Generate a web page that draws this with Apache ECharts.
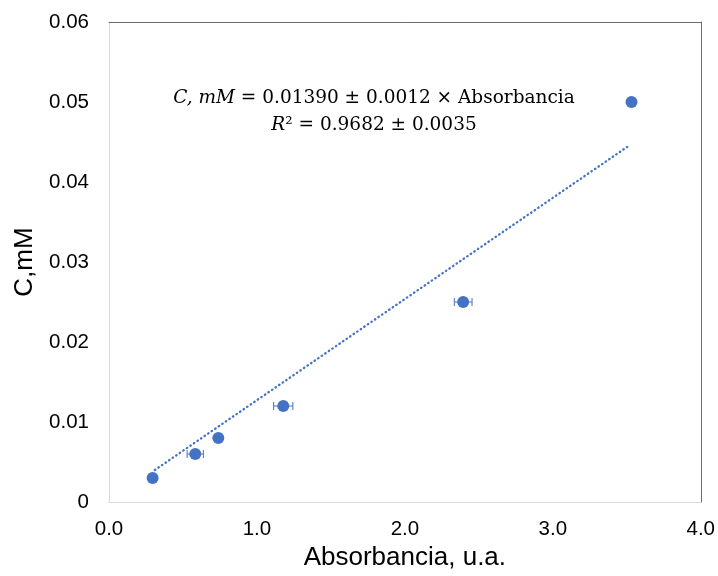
<!DOCTYPE html>
<html>
<head>
<meta charset="utf-8">
<script src="https://cdn.jsdelivr.net/npm/echarts@6/dist/echarts.min.js"></script>
<style>
html,body{margin:0;padding:0;background:#fff;}
#chart{width:718px;height:576px;}
</style>
</head>
<body>
<div id="chart"></div>
<script>
// Data
var absorbance = [0.295, 0.583, 0.739, 1.178, 2.394, 3.532];
var concentration = [0.003, 0.006, 0.008, 0.012, 0.025, 0.050];
var absorbanceErr = [0.02, 0.055, 0.02, 0.065, 0.06, 0.02];
var trendX = [0.31, 3.52];
var trendY = [0.0040, 0.0446];
var xTicks = ['0.0', '1.0', '2.0', '3.0', '4.0'];
var yTicks = ['0', '0.01', '0.02', '0.03', '0.04', '0.05', '0.06'];

var blue = '#4472C4';
var points = absorbance.map(function (x, i) { return [x, concentration[i]]; });
var errData = absorbance.map(function (x, i) { return [x, concentration[i], absorbanceErr[i]]; });
var trend = trendX.map(function (x, i) { return [x, trendY[i]]; });

var chart = echarts.init(document.getElementById('chart'), null, { renderer: 'canvas' });
var labelFont = { fontFamily: 'Liberation Sans, Arial, sans-serif', fontSize: 20.5, color: '#000' };

chart.setOption({
  animation: false,
  backgroundColor: '#fff',
  grid: { left: 109, right: 17, top: 22, bottom: 74, containLabel: false },
  xAxis: [{
    type: 'value', min: 0, max: 4, interval: 1, position: 'bottom',
    name: 'Absorbancia, u.a.', nameLocation: 'middle', nameGap: 43,
    nameTextStyle: { fontFamily: 'Liberation Sans, Arial, sans-serif', fontSize: 26, color: '#000' },
    axisLine: { show: true, onZero: false, lineStyle: { color: '#d9d9d9', width: 1 } },
    axisTick: { show: false },
    splitLine: { show: false },
    axisLabel: Object.assign({ margin: 17, formatter: function (v) { return xTicks[Math.round(v)]; } }, labelFont)
  }, {
    type: 'value', min: 0, max: 4, interval: 1, position: 'top',
    axisLine: { show: true, onZero: false, lineStyle: { color: '#6b6b6b', width: 1 } },
    axisTick: { show: false }, axisLabel: { show: false }, splitLine: { show: false }
  }],
  yAxis: [{
    type: 'value', min: 0, max: 0.06, interval: 0.01, position: 'left',
    name: 'C,mM', nameLocation: 'middle', nameGap: 70, nameRotate: 90,
    nameTextStyle: { fontFamily: 'Liberation Sans, Arial, sans-serif', fontSize: 26, color: '#000' },
    axisLine: { show: true, onZero: false, lineStyle: { color: '#d9d9d9', width: 1 } },
    axisTick: { show: false },
    splitLine: { show: false },
    axisLabel: Object.assign({ margin: 20, formatter: function (v) { return yTicks[Math.round(v * 100)]; } }, labelFont)
  }, {
    type: 'value', min: 0, max: 0.06, interval: 0.01, position: 'right',
    axisLine: { show: true, onZero: false, lineStyle: { color: '#6b6b6b', width: 1 } },
    axisTick: { show: false }, axisLabel: { show: false }, splitLine: { show: false }
  }],
  series: [{
    type: 'line',
    data: trend,
    showSymbol: false,
    symbol: 'none',
    lineStyle: { color: blue, width: 2.3, type: [0.5, 3.8], cap: 'round' },
    z: 2
  }, {
    type: 'custom',
    data: errData,
    z: 3,
    renderItem: function (params, api) {
      var x = api.value(0), y = api.value(1), e = api.value(2);
      var p1 = api.coord([x - e, y]);
      var p2 = api.coord([x + e, y]);
      var h = 4;
      var st = { stroke: blue, lineWidth: 1 };
      return {
        type: 'group',
        children: [
          { type: 'line', shape: { x1: p1[0], y1: p1[1], x2: p2[0], y2: p2[1] }, style: st },
          { type: 'line', shape: { x1: p1[0], y1: p1[1] - h, x2: p1[0], y2: p1[1] + h }, style: st },
          { type: 'line', shape: { x1: p2[0], y1: p2[1] - h, x2: p2[0], y2: p2[1] + h }, style: st }
        ]
      };
    }
  }, {
    type: 'scatter',
    data: points,
    symbol: 'circle',
    symbolSize: 12,
    itemStyle: { color: blue, opacity: 1 },
    z: 4
  }],
  graphic: [{
    type: 'text',
    x: 374, y: 98,
    style: {
      text: '{i|C, mM} = 0.01390 ± 0.0012 × Absorbancia',
      align: 'center', verticalAlign: 'middle',
      fontFamily: 'DejaVu Serif, serif', fontSize: 18.5, fill: '#000',
      rich: { i: { fontStyle: 'italic', fontFamily: 'DejaVu Serif, serif', fontSize: 18.5 } }
    }
  }, {
    type: 'text',
    x: 374, y: 125,
    style: {
      text: '{i|R}² = 0.9682 ± 0.0035',
      align: 'center', verticalAlign: 'middle',
      fontFamily: 'DejaVu Serif, serif', fontSize: 18.5, fill: '#000',
      rich: { i: { fontStyle: 'italic', fontFamily: 'DejaVu Serif, serif', fontSize: 18.5 } }
    }
  }]
});
</script>
</body>
</html>
